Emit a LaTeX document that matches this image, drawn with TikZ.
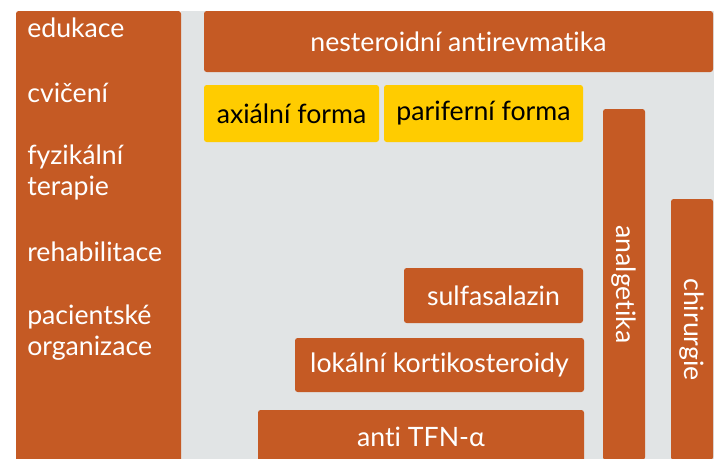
\documentclass[tikz,border=0pt]{standalone}
\usepackage{fontspec}
\setmainfont[Ligatures=NoCommon]{Lato}
\usetikzlibrary{positioning}
\definecolor{rezava}{HTML}{C55A24}
\definecolor{zluta}{HTML}{FFCC00}
\definecolor{seda}{HTML}{E1E4E5}
\tikzset{
    lek/.style={
        fill=rezava,
        rounded corners=2pt,
        text=white,
        inner sep=0pt,
        font=\fontsize{20}{24}\selectfont
    },
    % zlute bloky pro formy
    forma/.style={
        lek,
        fill=zluta,
        text=black
    },
    polozka/.style={
        anchor=west,
        text=white,
        inner sep=0pt,
        font=\fontsize{20}{24}\selectfont
    }
}

\begin{document}
\begin{tikzpicture}[x=0.75pt,y=-0.75pt]
    \useasboundingbox (0,0) rectangle (716,458);
    \clip (0,0) rectangle (716,458);
    \fill[seda] (181,11) rectangle (714,470);
    % levy sloupec
    \node[lek, minimum width=123.75pt, minimum height=344.25pt] (rezim) at (98.5,240.5) {};
    \node[polozka] (edukace) at (27,28) {edukace};
    \node[polozka] (cviceni) at (27,93) {cvičení};
    \node[polozka] (fyzik) at (27,157) {fyzikální};
    \node[polozka] (terapie) at (27,188) {terapie};
    \node[polozka] (rehab) at (27,252) {rehabilitace};
    \node[polozka] (pacient) at (27,317) {pacientské};
    \node[polozka] (organ) at (27,348) {organizace};
    % leky
    \node[lek, minimum width=381.75pt, minimum height=45.75pt] (nsa) at (458.5,41.5) {nesteroidní antirevmatika};
    \node[forma, minimum width=131.25pt, minimum height=42.75pt] (axial) at (291.5,113.5) {axiální forma};
    \node[forma, minimum width=149.25pt, minimum height=42.75pt] (perif) at (483.5,113.5) {pariferní forma};
    \node[lek, minimum width=31.5pt, minimum height=263.25pt] (analg) at (624,284.5) {};
    \node[rotate=-90, text=white, font=\fontsize{20}{24}\selectfont] (analgtxt) at (analg) {analgetika};
    \node[lek, minimum width=31.5pt, minimum height=195.75pt] (chir) at (692,329.5) {};
    \node[rotate=-90, text=white, font=\fontsize{20}{24}\selectfont] (chirtxt) at (chir) {chirurgie};
    \node[lek, minimum width=134.25pt, minimum height=41.25pt] (sulfa) at (493.5,295.5) {sulfasalazin};
    \node[lek, minimum width=216.75pt, minimum height=40.5pt] (kortik) at (439.5,365) {lokální kortikosteroidy};
    \node[lek, minimum width=244.5pt, minimum height=40.5pt] (tnf) at (421,437) {anti TFN-α};
\end{tikzpicture}
\end{document}
